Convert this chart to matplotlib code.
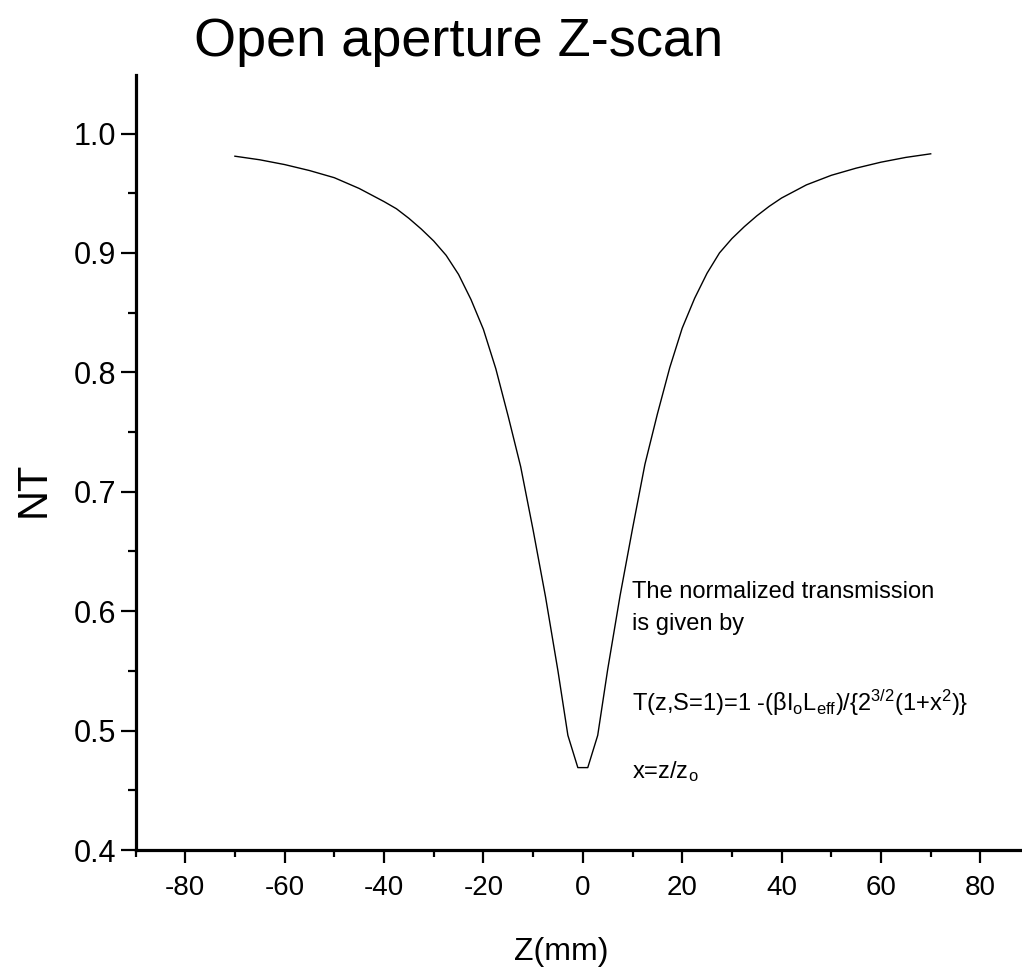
import matplotlib
matplotlib.use("Agg")
import matplotlib.pyplot as plt
from matplotlib.ticker import MultipleLocator

# Z-scan data: sample position (mm) and normalised transmission
z_mm = [-70, -65, -60, -55, -50, -45, -40, -37.5, -35, -32.5, -30, -27.5,
        -25, -22.5, -20, -17.5, -15, -12.5, -10, -7.5, -5, -3, -1,
        1, 3, 5, 7.5, 10, 12.5, 15, 17.5, 20, 22.5, 25, 27.5, 30, 32.5,
        35, 37.5, 40, 45, 50, 55, 60, 65, 70]
nt = [0.981, 0.978, 0.974, 0.969, 0.963, 0.954, 0.943, 0.937, 0.929, 0.920,
      0.910, 0.898, 0.882, 0.861, 0.836, 0.803, 0.763, 0.721, 0.668, 0.612,
      0.550, 0.496, 0.469,
      0.469, 0.496, 0.551, 0.613, 0.669, 0.723, 0.765, 0.804, 0.837, 0.862,
      0.883, 0.900, 0.912, 0.922, 0.931, 0.939, 0.946, 0.957, 0.965, 0.971,
      0.976, 0.980, 0.983]

x_ticks = [-80, -60, -40, -20, 0, 20, 40, 60, 80]
y_ticks = [0.4, 0.5, 0.6, 0.7, 0.8, 0.9, 1.0]

title = "Open aperture Z-scan"
note_lines = [
    "The normalized transmission",
    "is given by",
    r"T(z,S=1)=1 -($\beta$I$_{\rm o}$L$_{\rm eff}$)/{2$^{3/2}$(1+x$^{2}$)}",
    r"x=z/z$_{\rm o}$",
]

SANS = "Liberation Sans"
plt.rcParams["font.family"] = [SANS, "DejaVu Sans"]
plt.rcParams["axes.unicode_minus"] = False
plt.rcParams["mathtext.fontset"] = "custom"
plt.rcParams["mathtext.rm"] = SANS
plt.rcParams["mathtext.it"] = SANS
plt.rcParams["mathtext.bf"] = SANS + ":bold"

W, H = 1022, 977
fig = plt.figure(figsize=(W / 100, H / 100), dpi=100)
ax = fig.add_axes([135.5 / W, 1 - 850 / H, 894.6 / W, 775 / H])

ax.plot(z_mm, nt, color="black", lw=1.0)

ax.set_xlim(-90, 90)
ax.set_ylim(0.4, 1.049)
ax.set_xticks(x_ticks)
ax.set_yticks(y_ticks)
ax.set_yticklabels([f"{v:.1f}" for v in y_ticks])
ax.xaxis.set_minor_locator(MultipleLocator(10))
ax.yaxis.set_minor_locator(MultipleLocator(0.05))

for side in ("top", "right"):
    ax.spines[side].set_visible(False)
for side in ("left", "bottom"):
    ax.spines[side].set_linewidth(2.3)

ax.tick_params(axis="x", which="major", direction="out", length=9, width=1.6,
               pad=9, labelsize=20)
ax.tick_params(axis="x", which="minor", direction="out", length=5, width=1.6)
ax.tick_params(axis="y", which="major", direction="out", length=11, width=1.6,
               pad=3, labelsize=22)
ax.tick_params(axis="y", which="minor", direction="out", length=6, width=1.6)

fig.text(459 / W, 1 - 56 / H, title, ha="center", va="baseline", fontsize=39)
fig.text(34 / W, 1 - 489 / H, "NT", rotation=90, ha="center", va="center",
         fontsize=30)
fig.text(561 / W, 1 - 960 / H, "Z(mm)", ha="center", va="baseline", fontsize=23)

note_base = [598, 630, 711, 778]
for txt, yb in zip(note_lines, note_base):
    fig.text(632 / W, 1 - yb / H, txt, ha="left", va="baseline", fontsize=17)

fig.savefig("out.png", dpi=100)
